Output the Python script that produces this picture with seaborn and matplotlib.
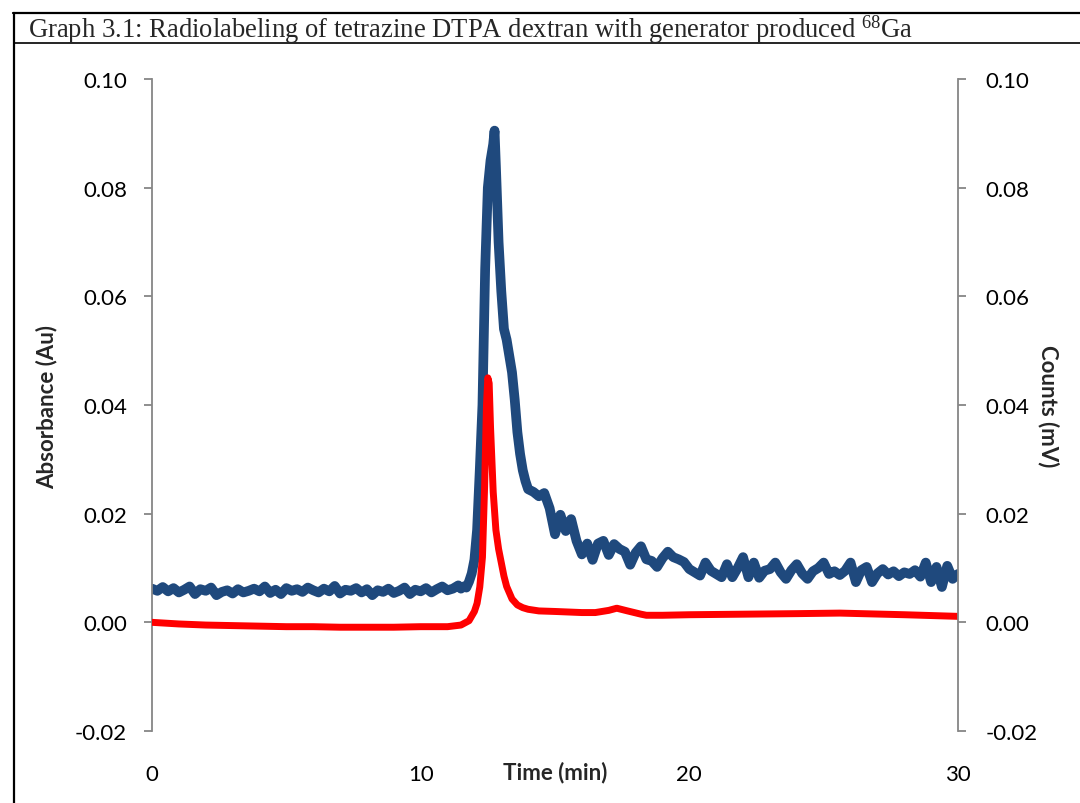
import matplotlib
matplotlib.use("Agg")
import matplotlib.pyplot as plt
import seaborn as sns
import pandas as pd
from matplotlib.lines import Line2D
from matplotlib.ticker import FormatStrFormatter

# ---------------- data ----------------
blue_time = [
    0.0, 0.2, 0.4, 0.6, 0.8, 1.0, 1.2, 1.4, 1.6, 1.8,
    2.0, 2.2, 2.4, 2.6, 2.8, 3.0, 3.2, 3.4, 3.6, 3.8,
    4.0, 4.2, 4.4, 4.6, 4.8, 5.0, 5.2, 5.4, 5.6, 5.8,
    6.0, 6.2, 6.4, 6.6, 6.8, 7.0, 7.2, 7.4, 7.6, 7.8,
    8.0, 8.2, 8.4, 8.6, 8.8, 9.0, 9.2, 9.4, 9.6, 9.8,
    10.0, 10.2, 10.4, 10.6, 10.8, 11.0, 11.2, 11.4,
    11.5, 11.6, 11.7, 11.8, 11.9, 12.0, 12.1, 12.2, 12.3, 12.4,
    12.5, 12.6, 12.7, 12.75, 12.8, 12.9, 13.0, 13.1, 13.2, 13.3,
    13.4, 13.5, 13.6, 13.7, 13.8, 13.9, 14.0,
    14.2, 14.4, 14.6, 14.8, 15.0, 15.2, 15.4, 15.6, 15.8, 16.0,
    16.2, 16.4, 16.6, 16.8, 17.0, 17.2, 17.4, 17.6, 17.8, 18.0,
    18.2, 18.4, 18.6, 18.8, 19.0, 19.2, 19.4, 19.6, 19.8, 20.0,
    20.2, 20.4, 20.6, 20.8, 21.0, 21.2, 21.4, 21.6, 21.8, 22.0,
    22.2, 22.4, 22.6, 22.8, 23.0, 23.2, 23.4, 23.6, 23.8, 24.0,
    24.2, 24.4, 24.6, 24.8, 25.0, 25.2, 25.4, 25.6, 25.8, 26.0,
    26.2, 26.4, 26.6, 26.8, 27.0, 27.2, 27.4, 27.6, 27.8, 28.0,
    28.2, 28.4, 28.6, 28.8, 29.0, 29.2, 29.4, 29.6, 29.8, 30.0,
]
blue_absorbance = [
    0.0062, 0.0058, 0.0065, 0.0057, 0.0063, 0.0055, 0.0060, 0.0066, 0.0052, 0.0061,
    0.0058, 0.0064, 0.0050, 0.0056, 0.0059, 0.0053, 0.0061, 0.0055, 0.0058, 0.0062,
    0.0057, 0.0066, 0.0054, 0.0060, 0.0052, 0.0063, 0.0058, 0.0061, 0.0056, 0.0064,
    0.0059, 0.0055, 0.0062, 0.0057, 0.0067, 0.0053, 0.0060, 0.0058, 0.0063, 0.0055,
    0.0061, 0.0050, 0.0059, 0.0056, 0.0062, 0.0054, 0.0058, 0.0064, 0.0052, 0.0060,
    0.0057, 0.0063, 0.0055, 0.0061, 0.0066, 0.0059, 0.0062, 0.0068,
    0.0062, 0.0066, 0.0064, 0.0075, 0.0090, 0.0115, 0.0170, 0.0280, 0.0400, 0.0650,
    0.0800, 0.0850, 0.0880, 0.0905, 0.0840, 0.0700, 0.0610, 0.0540, 0.0520, 0.0490,
    0.0460, 0.0410, 0.0350, 0.0310, 0.0280, 0.0260, 0.0245,
    0.0240, 0.0232, 0.0238, 0.0210, 0.0162, 0.0198, 0.0168, 0.0190, 0.0150, 0.0125,
    0.0145, 0.0115, 0.0145, 0.0150, 0.0124, 0.0144, 0.0135, 0.0130, 0.0106, 0.0128,
    0.0140, 0.0116, 0.0113, 0.0102, 0.0118, 0.0130, 0.0120, 0.0116, 0.0111, 0.0098,
    0.0092, 0.0086, 0.0110, 0.0095, 0.0089, 0.0083, 0.0107, 0.0083, 0.0100, 0.0120,
    0.0083, 0.0110, 0.0082, 0.0095, 0.0098, 0.0110, 0.0092, 0.0080, 0.0096, 0.0107,
    0.0090, 0.0080, 0.0094, 0.0100, 0.0110, 0.0089, 0.0094, 0.0087, 0.0095, 0.0110,
    0.0074, 0.0096, 0.0102, 0.0074, 0.0090, 0.0098, 0.0088, 0.0094, 0.0085, 0.0092,
    0.0089, 0.0096, 0.0084, 0.0110, 0.0074, 0.0102, 0.0065, 0.0104, 0.0080, 0.0089,
]

red_time = [
    0.0, 1.0, 2.0, 3.0, 4.0, 5.0, 6.0, 7.0, 8.0, 9.0, 10.0, 11.0, 11.5, 11.8,
    12.0, 12.1, 12.2, 12.3, 12.38, 12.45, 12.5, 12.55, 12.6, 12.7, 12.8, 12.9,
    13.0, 13.1, 13.2, 13.4, 13.6, 13.8, 14.0, 14.4, 15.0, 16.0, 16.5, 17.0,
    17.3, 17.7, 18.2, 18.4, 19.0, 20.0, 22.0, 24.0, 25.6, 28.0, 30.0,
]
red_counts = [
    0.0000, -0.0003, -0.0005, -0.0006, -0.0007, -0.0008, -0.0008, -0.0009, -0.0009,
    -0.0009, -0.0008, -0.0008, -0.0005, 0.0003,
    0.0020, 0.0035, 0.0065, 0.0120, 0.0250, 0.0400, 0.0450, 0.0440, 0.0360, 0.0240,
    0.0170, 0.0135,
    0.0110, 0.0085, 0.0066, 0.0043, 0.0032, 0.0027, 0.0024, 0.0021, 0.0020, 0.0018,
    0.0018, 0.0022,
    0.0026, 0.0021, 0.0015, 0.0013, 0.0013, 0.0014, 0.0015, 0.0016, 0.0017, 0.0014,
    0.0011,
]

x_ticks = [0, 10, 20, 30]
y_ticks = [-0.02, 0.00, 0.02, 0.04, 0.06, 0.08, 0.10]

title_text = "Graph 3.1: Radiolabeling of tetrazine DTPA dextran with generator produced $^{68}$Ga"
x_label = "Time (min)"
y_left_label = "Absorbance (Au)"
y_right_label = "Counts (mV)"

blue_df = pd.DataFrame({"time": blue_time, "absorbance": blue_absorbance})
red_df = pd.DataFrame({"time": red_time, "counts": red_counts})

# ---------------- style ----------------
sns.set_style("white")
plt.rcParams["font.family"] = ["Lato", "DejaVu Sans"]
plt.rcParams["axes.unicode_minus"] = False
plt.rcParams["mathtext.fontset"] = "custom"
plt.rcParams["mathtext.rm"] = "Liberation Serif"
plt.rcParams["mathtext.it"] = "Liberation Serif:italic"
plt.rcParams["mathtext.bf"] = "Liberation Serif:bold"

W, H = 1080, 804
fig = plt.figure(figsize=(W / 100, H / 100), dpi=100)
fig.patch.set_facecolor("white")

left, right, top, bottom = 152, 958, 80, 732
ax = fig.add_axes([left / W, 1 - bottom / H, (right - left) / W, (bottom - top) / H])
ax2 = ax.twinx()

BLUE = "#1F497D"
RED = "#FF0000"
GRAY = "#868686"

sns.lineplot(data=blue_df, x="time", y="absorbance", ax=ax, color=BLUE,
             linewidth=7.0, solid_joinstyle="round", solid_capstyle="round",
             estimator=None, sort=False)
sns.lineplot(data=red_df, x="time", y="counts", ax=ax2, color=RED,
             linewidth=5.0, solid_joinstyle="round", solid_capstyle="round",
             estimator=None, sort=False)

for a in (ax, ax2):
    a.set_xlim(0, 30)
    a.set_ylim(-0.02, 0.10)
    a.set_yticks(y_ticks)
    a.yaxis.set_major_formatter(FormatStrFormatter("%.2f"))
    a.set_xlabel("")
    a.set_ylabel("")
    a.set_facecolor("none")
    for s in a.spines.values():
        s.set_visible(False)

ax.set_xticks(x_ticks)
ax.set_xticklabels([str(t) for t in x_ticks])
ax.tick_params(axis="x", length=0, pad=24, labelsize=16, colors="black")
ax.spines["left"].set_visible(True)
ax.spines["left"].set_color(GRAY)
ax.spines["left"].set_linewidth(1.3)
ax.tick_params(axis="y", direction="out", length=6, width=1.3, color=GRAY,
               labelcolor="black", labelsize=16, pad=12, left=True)

ax2.spines["right"].set_visible(True)
ax2.spines["right"].set_color(GRAY)
ax2.spines["right"].set_linewidth(1.3)
ax2.tick_params(axis="y", direction="out", length=6, width=1.3, color=GRAY,
                labelcolor="black", labelsize=16, pad=14, right=True)
ax2.tick_params(axis="x", length=0, labelbottom=False)

# labels
fig.text(555 / W, 1 - 773 / H, x_label, ha="center", va="center",
         fontsize=16, fontweight="bold")
fig.text(47 / W, 1 - 407 / H, y_left_label, ha="center", va="center",
         rotation=90, fontsize=16, fontweight="bold")
fig.text(1048 / W, 1 - 406 / H, y_right_label, ha="center", va="center",
         rotation=270, fontsize=16, fontweight="bold")

# title box
fig.text(28 / W, 1 - 38 / H, title_text, ha="left", va="baseline",
         fontsize=19.2, family="Liberation Serif")
fig.add_artist(Line2D([13 / W, 1], [1 - 14 / H, 1 - 14 / H], transform=fig.transFigure,
                      color="black", linewidth=1.6))
fig.add_artist(Line2D([14 / W, 1], [1 - 44 / H, 1 - 44 / H], transform=fig.transFigure,
                      color="black", linewidth=1.2))
fig.add_artist(Line2D([14 / W, 14 / W], [0, 1 - 14 / H], transform=fig.transFigure,
                      color="black", linewidth=1.6))

fig.savefig("out.png", dpi=100, facecolor="white")
